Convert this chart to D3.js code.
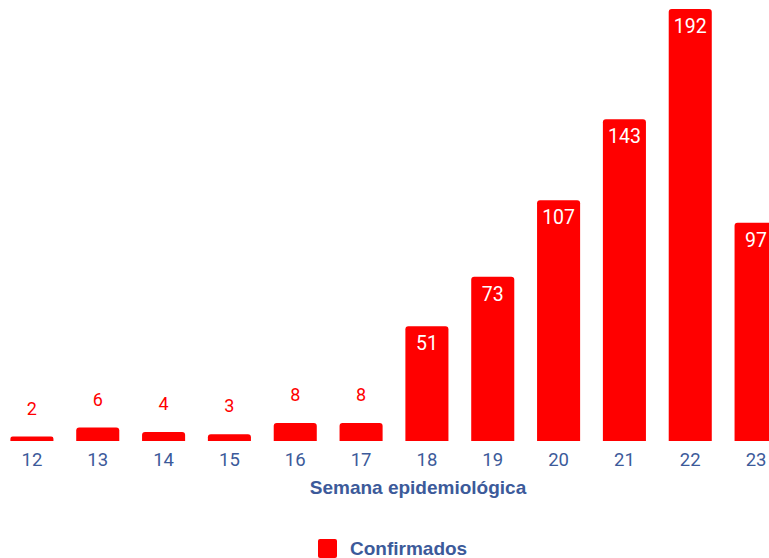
<!DOCTYPE html>
<html>
<head>
<meta charset="utf-8">
<script src="https://cdn.jsdelivr.net/npm/d3@7"></script>
<style>
  body { margin: 0; background: #fff; }
  svg { display: block; }
</style>
</head>
<body>
<svg id="chart"></svg>
<script>
const semanas = ["12", "13", "14", "15", "16", "17", "18", "19", "20", "21", "22", "23"];
const confirmados = [2, 6, 4, 3, 8, 8, 51, 73, 107, 143, 192, 97];
const serieNombre = "Confirmados";
const ejeTitulo = "Semana epidemiológica";

const width = 769, height = 558;
const rojo = "#ff0000", azul = "#3c5a9a";

const svg = d3.select("#chart")
    .attr("width", width)
    .attr("height", height);

const x = d3.scaleBand()
    .domain(semanas)
    .range([-1, 789])
    .paddingInner(0.346)
    .paddingOuter(0.173);

const y = d3.scaleLinear()
    .domain([0, 192])
    .range([441, 9]);

const data = semanas.map((s, i) => ({ semana: s, valor: confirmados[i] }));
const dentro = d => d.valor > 30;

// barras con esquinas superiores redondeadas
const r = 3;
svg.append("g")
    .selectAll("path")
    .data(data)
    .join("path")
    .attr("fill", rojo)
    .attr("d", d => {
        const x0 = x(d.semana), x1 = x0 + x.bandwidth();
        const y0 = y(d.valor), yb = y(0);
        const rr = Math.min(r, (yb - y0) / 2);
        return `M${x0},${yb}V${y0 + rr}Q${x0},${y0} ${x0 + rr},${y0}H${x1 - rr}Q${x1},${y0} ${x1},${y0 + rr}V${yb}Z`;
    });

// etiquetas de valor
svg.append("g")
    .selectAll("text")
    .data(data)
    .join("text")
    .attr("x", d => x(d.semana) + x.bandwidth() / 2)
    .attr("y", d => dentro(d) ? y(d.valor) + 24 : y(d.valor) - 22)
    .attr("text-anchor", "middle")
    .attr("font-family", "Roboto")
    .attr("font-size", d => dentro(d) ? 19.5 : 18)
    .attr("fill", d => dentro(d) ? "#fff" : rojo)
    .text(d => d.valor);

// eje x
const ejeX = svg.append("g")
    .attr("transform", `translate(0,${y(0)})`)
    .call(d3.axisBottom(x).tickSize(0).tickPadding(12));
ejeX.select(".domain").remove();
ejeX.selectAll("text")
    .attr("font-family", "Roboto")
    .attr("font-size", 18.5)
    .attr("fill", azul);

svg.append("text")
    .attr("x", 418)
    .attr("y", 494)
    .attr("text-anchor", "middle")
    .attr("font-family", "Liberation Sans")
    .attr("font-weight", "bold")
    .attr("font-size", 19)
    .attr("fill", azul)
    .text(ejeTitulo);

// leyenda
const leyenda = svg.append("g").attr("transform", "translate(318,539)");
leyenda.append("rect")
    .attr("width", 19)
    .attr("height", 19)
    .attr("rx", 2)
    .attr("fill", rojo);
leyenda.append("text")
    .attr("x", 32)
    .attr("y", 15.5)
    .attr("font-family", "Liberation Sans")
    .attr("font-weight", "bold")
    .attr("font-size", 19)
    .attr("fill", azul)
    .text(serieNombre);
</script>
</body>
</html>
